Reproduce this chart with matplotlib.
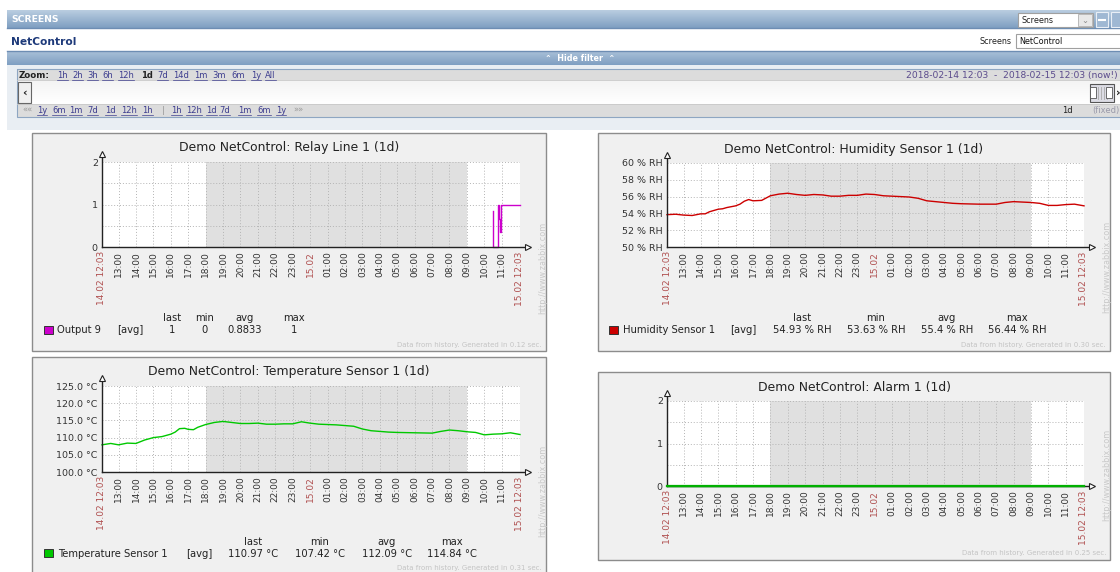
import numpy as np
import matplotlib
matplotlib.use('Agg')
import matplotlib.pyplot as plt
from matplotlib.patches import Rectangle
from matplotlib.colors import LinearSegmentedColormap

W, H = 1120, 572

# time axis: hours after 14.02 12:03
tick_labels = ['14.02 12:03', '13:00', '14:00', '15:00', '16:00', '17:00', '18:00', '19:00',
               '20:00', '21:00', '22:00', '23:00', '15.02', '01:00', '02:00', '03:00', '04:00',
               '05:00', '06:00', '07:00', '08:00', '09:00', '10:00', '11:00', '15.02 12:03']
red_labels = ['14.02 12:03', '15.02', '15.02 12:03']
offhours_start, offhours_end = 5.95, 20.95

relay_h = [22.47, 22.47, 22.47, 22.71, 22.71, 22.75, 22.75, 22.8, 22.8, 22.85, 22.85, 22.91, 22.91, 24.0]
relay_v = [0.84, 0.0, 0.0, 0.0, 0.67, 0.67, 1.0, 1.0, 0.67, 0.67, 0.35, 0.35, 1.0, 1.0]

hum_h = [0, 0.5, 0.95, 1.45, 1.95, 2.2, 2.45, 2.95, 3.2, 3.45, 3.95, 4.2, 4.45, 4.7, 4.95,
         5.45, 5.95, 6.45, 6.95, 7.45, 7.95, 8.45, 8.95, 9.45, 9.95, 10.45, 10.95, 11.45,
         11.95, 12.45, 12.95, 13.45, 13.95, 14.45, 14.95, 15.45, 15.95, 16.45, 16.95, 17.95,
         18.95, 19.45, 19.95, 20.45, 20.95, 21.45, 21.95, 22.45, 22.95, 23.45, 24]
hum_v = [53.85, 53.9, 53.8, 53.75, 53.95, 53.95, 54.2, 54.5, 54.55, 54.7, 54.9, 55.1, 55.45,
         55.65, 55.5, 55.55, 56.1, 56.3, 56.4, 56.25, 56.15, 56.25, 56.2, 56.05, 56.05, 56.15,
         56.15, 56.3, 56.25, 56.1, 56.05, 56.0, 55.95, 55.8, 55.5, 55.4, 55.3, 55.2, 55.15,
         55.1, 55.1, 55.3, 55.4, 55.35, 55.3, 55.2, 54.95, 54.95, 55.05, 55.1, 54.9]

temp_h = [0, 0.5, 0.95, 1.45, 1.95, 2.45, 2.95, 3.45, 3.95, 4.2, 4.45, 4.75, 4.95, 5.25, 5.5,
          5.95, 6.45, 6.95, 7.45, 7.95, 8.45, 8.95, 9.45, 9.95, 10.45, 10.95, 11.45, 11.95,
          12.45, 12.95, 13.45, 13.95, 14.45, 14.95, 15.45, 15.95, 16.45, 16.95, 17.95, 18.95,
          19.45, 19.95, 20.45, 20.95, 21.45, 21.95, 22.45, 22.95, 23.45, 24]
temp_v = [107.9, 108.3, 107.9, 108.4, 108.3, 109.3, 110.0, 110.3, 111.0, 111.6, 112.6, 112.7,
          112.4, 112.3, 113.0, 113.8, 114.4, 114.7, 114.4, 114.1, 114.1, 114.2, 113.9, 113.9,
          114.0, 114.0, 114.6, 114.2, 113.9, 113.8, 113.7, 113.5, 113.3, 112.5, 112.0, 111.8,
          111.6, 111.5, 111.4, 111.3, 111.8, 112.2, 112.0, 111.7, 111.5, 110.8, 111.0, 111.1,
          111.4, 110.9]

alarm_h = [0, 24]
alarm_v = [0, 0]

stat_names = ['last', 'min', 'avg', 'max']
relay_stats = ['1', '0', '0.8833', '1']
hum_stats = ['54.93 % RH', '53.63 % RH', '55.4 % RH', '56.44 % RH']
temp_stats = ['110.97 °C', '107.42 °C', '112.09 °C', '114.84 °C']

zoom_links = ['1h', '2h', '3h', '6h', '12h', '1d', '7d', '14d', '1m', '3m', '6m', '1y', 'All']
zoom_x = [57, 72, 87, 102, 118, 141, 157, 173, 194, 212, 231, 251, 265]
nav_links = ['««', '1y', '6m', '1m', '7d', '1d', '12h', '1h', '|', '1h', '12h', '1d', '7d', '1m', '6m', '1y', '»»']
nav_x = [22, 37, 52, 69, 87, 105, 121, 142, 162, 171, 186, 206, 219, 238, 257, 276, 293]

LINK = '#3d3d8f'
UI = 6.0
underlined = []


def gradient(bg, x0, y0, x1, y1, top, bottom):
    cmap = LinearSegmentedColormap.from_list('g', [top, bottom])
    bg.imshow(np.linspace(0, 1, 32)[:, None], cmap=cmap, aspect='auto',
              extent=(x0, x1, y1, y0), origin='upper', interpolation='bilinear', zorder=1)


def box(bg, x0, y0, x1, y1, fc, ec='none', lw=1.0, z=2):
    bg.add_patch(Rectangle((x0, y0), x1 - x0, y1 - y0, fc=fc, ec=ec, lw=lw, zorder=z))


def draw_header(bg):
    # SCREENS bar
    gradient(bg, 7, 10, 1120, 28, '#b9cde0', '#7f9fc2')
    bg.plot([7, 1120], [28, 28], color='#6d8db3', lw=1, zorder=3)
    bg.text(11, 19.5, 'SCREENS', color='white', fontsize=6.7, fontweight='bold', va='center', zorder=4)
    box(bg, 1018, 13, 1093, 27, 'white', '#a0a0a0', 0.8, z=4)
    box(bg, 1078, 14, 1092, 26, '#e8e8e8', '#b0b0b0', 0.6, z=5)
    bg.text(1022, 20.5, 'Screens', fontsize=5.8, va='center', color='#222', zorder=6)
    bg.text(1085, 20.5, '⌄', fontsize=6, va='center', ha='center', color='#888', zorder=6)
    box(bg, 1096, 12, 1108, 27, '#9fb8d3', '#e8eef5', 0.8, z=4)
    bg.plot([1099, 1105], [19.5, 19.5], color='white', lw=1.5, zorder=5)
    box(bg, 1111, 12, 1122, 27, '#9fb8d3', '#e8eef5', 0.8, z=4)

    # NetControl row
    bg.text(11, 42, 'NetControl', color='#1e3a7a', fontsize=7.7, fontweight='bold', va='center', zorder=4)
    bg.text(1012, 41.5, 'Screens', fontsize=5.8, va='center', ha='right', color='#222', zorder=4)
    box(bg, 1016, 34, 1122, 48, 'white', '#a0a0a0', 0.8, z=4)
    bg.text(1019, 41.5, 'NetControl', fontsize=5.8, va='center', color='#111', zorder=5)

    # Hide filter bar
    gradient(bg, 7, 51, 1120, 65, '#a9c0d8', '#7f9fc2')
    bg.plot([7, 1120], [51, 51], color='#6d8db3', lw=1, zorder=3)
    bg.text(580, 58.5, '⌃  Hide filter  ⌃', color='white', fontsize=5.8, fontweight='bold',
            ha='center', va='center', zorder=4)

    # filter area
    box(bg, 7, 65, 1120, 130, '#e9eef3', z=1)
    box(bg, 17, 69, 1122, 80, '#dcdcdc', z=2)
    gradient(bg, 17, 80, 1122, 104, '#f4f4f4', '#ffffff')
    box(bg, 17, 104, 1122, 117, '#dcdcdc', z=2)
    box(bg, 17, 69, 1122, 117, 'none', '#8ea6c2', 0.8, z=3)
    bg.plot([17, 1122], [80, 80], color='#c8c8c8', lw=0.6, zorder=3)
    bg.plot([17, 1122], [104, 104], color='#c8c8c8', lw=0.6, zorder=3)

    bg.text(19, 75.5, 'Zoom:', fontsize=6.3, fontweight='bold', color='#222', va='center', zorder=4)
    for lab, x in zip(zoom_links, zoom_x):
        if lab == '1d':
            bg.text(x, 75.5, lab, fontsize=UI, fontweight='bold', color='#222', va='center', zorder=4)
        else:
            underlined.append(bg.text(x, 75.5, lab, fontsize=UI, color=LINK, va='center', zorder=4))
    bg.text(1118, 75.5, '2018-02-14 12:03  -  2018-02-15 12:03 (now!)', fontsize=6.6,
            color='#5a4a8c', va='center', ha='right', zorder=4)

    # scroll row
    box(bg, 18, 82, 31, 103, '#f0f0f0', '#666', 0.8, z=4)
    bg.text(24.5, 92.5, '‹', fontsize=8, fontweight='bold', ha='center', va='center', color='#222', zorder=5)
    box(bg, 1090, 84, 1114, 102, '#dcdce4', '#555', 0.8, z=4)
    for lx in [1098, 1101, 1104, 1107]:
        bg.plot([lx, lx], [87, 99], color='#aaa', lw=0.6, zorder=5)
    box(bg, 1090, 87, 1096, 98, 'white', '#555', 0.6, z=5)
    box(bg, 1106, 87, 1112, 98, 'white', '#555', 0.6, z=5)
    bg.text(1118, 93, '›', fontsize=8, fontweight='bold', ha='center', va='center', color='#222', zorder=5)

    for lab, x in zip(nav_links, nav_x):
        if lab in ('««', '»»', '|'):
            bg.text(x, 110.5, lab, fontsize=UI, color='#999', va='center', zorder=4)
        else:
            underlined.append(bg.text(x, 110.5, lab, fontsize=UI, color=LINK, va='center', zorder=4))
    bg.text(1073, 110.5, '1d', fontsize=UI, color='#222', va='center', ha='right', zorder=4)
    bg.text(1092, 110.5, '(fixed)', fontsize=UI, color='#9a9aaa', va='center', zorder=4)


def draw_panel(fig, bg, panel, plot, title, xs, ys, color, ylim, yticks, ylabels,
               minor=None, legend=None, gen='0.12', url_y=268, gen_y=345):
    x0, y0, x1, y1 = panel
    box(bg, x0, y0, x1, y1, '#f0f0f0', '#8c8c8c', 1.0, z=2)
    bg.text((x0 + x1) / 2, plot[1] - 14, title, fontsize=8.9, color='#222',
            ha='center', va='center', zorder=4)
    bg.text(x1 - 4, gen_y, 'Data from history. Generated in %s sec.' % gen,
            fontsize=5, color='#c4c4c4', ha='right', va='center', zorder=4)
    bg.text(x1 - 3, url_y, 'http://www.zabbix.com', fontsize=5.8, color='#c8c8c8', rotation=90,
            ha='center', va='center', zorder=4)

    px0, py0, px1, py1 = plot
    ax = fig.add_axes([px0 / W, 1 - py1 / H, (px1 - px0) / W, (py1 - py0) / H])
    ax.set_facecolor('white')
    ax.axvspan(offhours_start, offhours_end, color='#e0e0e0', lw=0, zorder=0)
    ax.set_xlim(0, 24)
    ax.set_ylim(*ylim)

    ticks = [0] + [i + 0.95 for i in range(len(tick_labels) - 2)] + [24]
    ax.set_xticks(ticks)
    ax.set_xticklabels(tick_labels, rotation=90, fontsize=6.5, va='top', ha='center')
    for t in ax.get_xticklabels():
        t.set_color('#b05050' if t.get_text() in red_labels else '#333')
    ax.set_yticks(yticks)
    ax.set_yticklabels(ylabels, fontsize=6.8, color='#333')
    if minor:
        ax.set_yticks(minor, minor=True)
        ax.tick_params(axis='y', which='minor', length=0)
    ax.tick_params(length=0, pad=3)
    ax.grid(True, which='both', color='#b4b4b4', lw=0.7, ls=(0, (1, 2)))
    ax.set_axisbelow(True)
    for s in ax.spines.values():
        s.set_visible(False)

    ax.plot(xs, ys, color=color, lw=1.0, zorder=3, clip_on=False)

    # axis lines with arrows
    ax.plot([0, 0], [0, 1 + 8 / (py1 - py0)], transform=ax.transAxes, color='#222', lw=1.0,
            clip_on=False, zorder=4)
    ax.plot([0, 1 + 8 / (px1 - px0)], [0, 0], transform=ax.transAxes, color='#222', lw=1.0,
            clip_on=False, zorder=4)
    ax.plot([0], [1 + 8 / (py1 - py0)], transform=ax.transAxes, marker='^', ms=4.5,
            mfc='white', mec='#222', mew=0.8, clip_on=False, zorder=5)
    ax.plot([1 + 8 / (px1 - px0)], [0], transform=ax.transAxes, marker='>', ms=4.5,
            mfc='white', mec='#222', mew=0.8, clip_on=False, zorder=5)
    if ys is alarm_v:
        ax.plot(xs, ys, color=color, lw=1.6, zorder=6, clip_on=False)

    if legend:
        name, stats, sq, name_x, avg_x, col_x, hy, vy = legend
        box(bg, sq[0], sq[1], sq[0] + 9, sq[1] + 8, color, '#333', 0.7, z=4)
        bg.text(name_x, vy, name, fontsize=7.2, color='#222', va='center', zorder=4)
        bg.text(avg_x, vy, '[avg]', fontsize=7.2, color='#222', va='center', zorder=4)
        for nm, val, cx in zip(stat_names, stats, col_x):
            bg.text(cx, hy, nm, fontsize=7.2, color='#222', ha='center', va='center', zorder=4)
            bg.text(cx, vy, val, fontsize=7.2, color='#222', ha='center', va='center', zorder=4)
    return ax


def main():
    fig = plt.figure(figsize=(W / 100, H / 100), dpi=100)
    fig.patch.set_facecolor('white')
    bg = fig.add_axes([0, 0, 1, 1])
    bg.axis('off')

    draw_header(bg)

    draw_panel(fig, bg, (32, 133, 546, 351), (102, 162, 520, 247),
               'Demo NetControl: Relay Line 1 (1d)', relay_h, relay_v, '#cc00cc',
               (0, 2), [0, 1, 2], ['0', '1', '2'], minor=[0.5, 1.5],
               legend=('Output 9', relay_stats, (44, 326), 57, 117, [172, 205, 245, 294], 318, 330),
               gen='0.12', url_y=268, gen_y=345)
    draw_panel(fig, bg, (598, 133, 1110, 351), (667, 163, 1084, 247),
               'Demo NetControl: Humidity Sensor 1 (1d)', hum_h, hum_v, '#cc0000',
               (50, 60), [50, 52, 54, 56, 58, 60],
               ['50 % RH', '52 % RH', '54 % RH', '56 % RH', '58 % RH', '60 % RH'],
               legend=('Humidity Sensor 1', hum_stats, (609, 326), 623, 730, [802, 876, 947, 1017], 318, 330),
               gen='0.30', url_y=267, gen_y=345)
    draw_panel(fig, bg, (32, 357, 546, 580), (102, 386, 520, 472),
               'Demo NetControl: Temperature Sensor 1 (1d)', temp_h, temp_v, '#00c800',
               (100, 125), [100, 105, 110, 115, 120, 125],
               ['100.0 °C', '105.0 °C', '110.0 °C', '115.0 °C', '120.0 °C', '125.0 °C'],
               legend=('Temperature Sensor 1', temp_stats, (44, 549), 58, 186, [253, 320, 387, 452], 542, 554),
               gen='0.31', url_y=491, gen_y=568)
    draw_panel(fig, bg, (598, 372, 1110, 560), (667, 401, 1084, 486),
               'Demo NetControl: Alarm 1 (1d)', alarm_h, alarm_v, '#00b000',
               (0, 2), [0, 1, 2], ['0', '1', '2'], minor=[0.5, 1.5],
               gen='0.25', url_y=475, gen_y=553)

    bg.set_xlim(0, W)
    bg.set_ylim(H, 0)

    # underline the links, using their drawn width
    renderer = fig.canvas.get_renderer()
    for t in underlined:
        bb = t.get_window_extent(renderer)
        x, y = t.get_position()
        bg.plot([bb.x0, bb.x1], [y + 4, y + 4], color=LINK, lw=0.5, zorder=4)

    fig.savefig('out.png', dpi=100)


if __name__ == '__main__':
    main()
